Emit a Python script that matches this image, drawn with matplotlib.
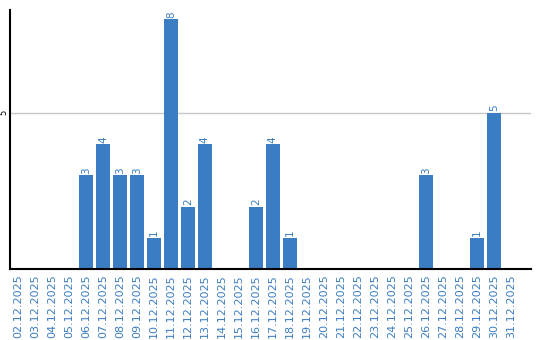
import matplotlib
matplotlib.use('Agg')
import matplotlib.pyplot as plt
import numpy as np

dates  = ['%02d.12.2025' % d for d in range(2, 32)]
values = [0, 0, 0, 0, 3, 4, 3, 3, 1, 8, 2, 4, 0, 0, 2, 4, 1,
          0, 0, 0, 0, 0, 0, 0, 3, 0, 0, 1, 5, 0]

blue = '#3b7dc3'

fig = plt.figure(figsize=(5.4, 3.4), dpi=100)
ax  = fig.add_axes([0.0185, 0.209, 0.9645, 0.762])

x = np.arange(len(dates))
ax.bar(x, values, width=0.82, color=blue, zorder=2)
for xi, v in zip(x, values):
    if v > 0:
        ax.text(xi, v + 0.05, str(v), rotation=90, ha='center', va='bottom',
                color=blue, fontsize=7.5)

ax.set_xlim(-0.47, 30.18)
ax.set_ylim(0, 8.3)
ax.set_yticks([5])
ax.set_yticklabels(['5'], rotation=90, va='center', fontsize=6)
ax.yaxis.grid(True, color='#c8c8c8', linewidth=1, zorder=0)
ax.set_xticks(x)
ax.set_xticklabels(dates, rotation=90, color=blue, fontsize=8)
ax.tick_params(length=0, pad=4)
ax.tick_params(axis='y', pad=1)

for s in ['top', 'right']:
    ax.spines[s].set_visible(False)
ax.spines['left'].set_linewidth(1.5)
ax.spines['bottom'].set_linewidth(1.5)

fig.savefig('out.png', dpi=100)
